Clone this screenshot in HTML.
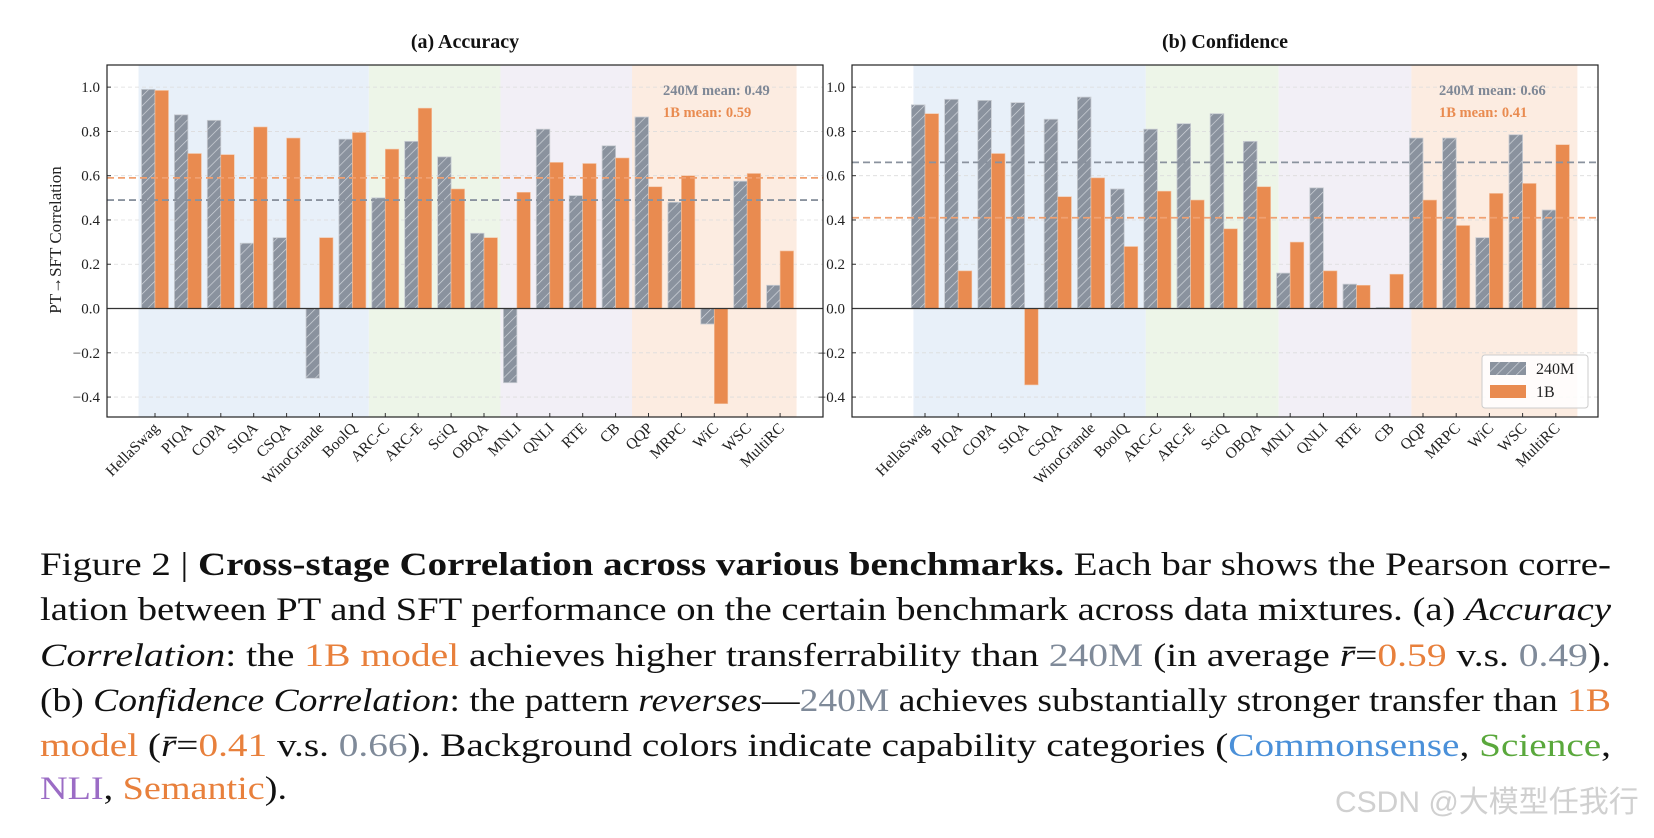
<!DOCTYPE html>
<html><head><meta charset="utf-8"><style>
html,body{margin:0;padding:0;background:#fff;}
svg{display:block;font-family:"Liberation Serif","DejaVu Serif",serif;}
</style></head><body>
<svg id="root" width="1654" height="838" viewBox="0 0 1654 838">
<defs>
<pattern id="hatch" patternUnits="userSpaceOnUse" width="7" height="7" patternTransform="rotate(45)">
<rect width="7" height="7" fill="#8a929e"/>
<line x1="0" y1="0" x2="0" y2="7" stroke="#d4d8de" stroke-width="1.3"/>
</pattern>
</defs>
<g id="chartA"></g>
<g id="chartB"></g>
<g font-size="33" fill="#111">
<text x="40" y="575" textLength="1571" lengthAdjust="spacingAndGlyphs">Figure 2 | <tspan font-weight="bold">Cross-stage Correlation across various benchmarks.</tspan> Each bar shows the Pearson corre-</text>
<text x="40" y="620" textLength="1571" lengthAdjust="spacingAndGlyphs">lation between PT and SFT performance on the certain benchmark across data mixtures. (a) <tspan font-style="italic">Accuracy</tspan></text>
<text x="40" y="666" textLength="1571" lengthAdjust="spacingAndGlyphs"><tspan font-style="italic">Correlation</tspan>: the <tspan fill="#e8803c">1B model</tspan> achieves higher transferrability than <tspan fill="#7f8a99">240M</tspan> (in average <tspan font-style="italic">r̄</tspan>=<tspan fill="#e8803c">0.59</tspan> v.s. <tspan fill="#7f8a99">0.49</tspan>).</text>
<text x="40" y="711" textLength="1571" lengthAdjust="spacingAndGlyphs">(b) <tspan font-style="italic">Confidence Correlation</tspan>: the pattern <tspan font-style="italic">reverses</tspan>—<tspan fill="#7f8a99">240M</tspan> achieves substantially stronger transfer than <tspan fill="#e8803c">1B</tspan></text>
<text x="40" y="756" textLength="1571" lengthAdjust="spacingAndGlyphs"><tspan fill="#e8803c">model</tspan> (<tspan font-style="italic">r̄</tspan>=<tspan fill="#e8803c">0.41</tspan> v.s. <tspan fill="#7f8a99">0.66</tspan>). Background colors indicate capability categories (<tspan fill="#4a90d9">Commonsense</tspan>, <tspan fill="#5aa83c">Science</tspan>,</text>
<text x="40" y="799" textLength="247" lengthAdjust="spacingAndGlyphs"><tspan fill="#9b6cc5">NLI</tspan>, <tspan fill="#e8803c">Semantic</tspan>).</text>
</g>
<text x="1335" y="812" font-family="'Liberation Sans','Noto Sans CJK SC',sans-serif" font-size="30" fill="#d0d0d0">CSDN @大模型任我行</text>
</svg>
<script>
const categories = ["HellaSwag","PIQA","COPA","SIQA","CSQA","WinoGrande","BoolQ","ARC-C","ARC-E","SciQ","OBQA","MNLI","QNLI","RTE","CB","QQP","MRPC","WiC","WSC","MultiRC"];
const groupSizes = [7,4,4,5];
const accuracy240M = [0.99,0.875,0.85,0.295,0.32,-0.315,0.765,0.50,0.755,0.685,0.34,-0.335,0.81,0.51,0.735,0.865,0.48,-0.07,0.575,0.105];
const accuracy1B = [0.985,0.70,0.695,0.82,0.77,0.32,0.795,0.72,0.905,0.54,0.32,0.525,0.66,0.655,0.68,0.55,0.60,-0.43,0.61,0.26];
const confidence240M = [0.92,0.945,0.94,0.93,0.855,0.955,0.54,0.81,0.835,0.88,0.755,0.16,0.545,0.11,0.005,0.77,0.77,0.32,0.785,0.445];
const confidence1B = [0.88,0.17,0.70,-0.345,0.505,0.59,0.28,0.53,0.49,0.36,0.55,0.30,0.17,0.105,0.155,0.49,0.375,0.52,0.565,0.74];
const accuracyMeans = [0.49,0.59];
const confidenceMeans = [0.66,0.41];
const yTicks = [-0.4,-0.2,0.0,0.2,0.4,0.6,0.8,1.0];
const yTickLabels = ["\u22120.4","\u22120.2","0.0","0.2","0.4","0.6","0.8","1.0"];

const NS="http://www.w3.org/2000/svg";
const bgColors=["#e8f0f9","#edf5e8","#f2eff6","#fcece1"];
const GRAY="#8a929e", ORANGE="#e98b50";
function mk(tag,attrs,parent){const e=document.createElementNS(NS,tag);for(const k in attrs)e.setAttribute(k,attrs[k]);parent.appendChild(e);return e;}

function drawChart(g,cfg){
  const L=cfg.left,R=cfg.right,T=65,B=417,ymin=-0.49,ymax=1.1;
  const y=v=>B-(v-ymin)/(ymax-ymin)*(B-T);
  const step=cfg.step, x0=cfg.first;
  const x=i=>x0+i*step;
  const bw=step*0.41;
  let start=0;
  groupSizes.forEach((n,gi)=>{
    const r=mk("rect",{x:x(start)-step/2+cfg.bgShift,y:T,width:n*step,height:B-T,fill:bgColors[gi]},g);
    
    
    start+=n;
  });
  yTicks.forEach((t,i)=>{
    const gl=mk("line",{x1:L,x2:R,y1:y(t),y2:y(t),stroke:"#dcdcdc","stroke-width":0.8,"stroke-dasharray":"4,3"},g);
    
    
    mk("line",{x1:L,x2:L+4,y1:y(t),y2:y(t),stroke:"#333"},g);
    const tl=mk("text",{x:L-7,y:y(t)+5,"text-anchor":"end","font-size":15,fill:"#222"},g);
    tl.textContent=yTickLabels[i];
    
    
  });
  categories.forEach((c,i)=>{
    const a=cfg.s1[i], b=cfg.s2[i];
    const r1=mk("rect",{x:x(i)-bw,y:Math.min(y(a),y(0)),width:bw,height:Math.abs(y(a)-y(0)),fill:"url(#hatch)",stroke:"#c8ccd2","stroke-width":0.8},g);
    
    
    const r2=mk("rect",{x:x(i),y:Math.min(y(b),y(0)),width:bw,height:Math.abs(y(b)-y(0)),fill:ORANGE,stroke:"#f3c3a3","stroke-width":0.6},g);
    
    
    mk("line",{x1:x(i),x2:x(i),y1:B,y2:B-4,stroke:"#333"},g);
    const lt=mk("text",{transform:`translate(${x(i)+5},${B+12}) rotate(-45)`,"text-anchor":"end","font-size":15.5,fill:"#222"},g);
    lt.textContent=c;
    
    
  });
  const z=mk("line",{x1:L,x2:R,y1:y(0),y2:y(0),stroke:"#333","stroke-width":1.2},g);
  
  
  const m1=mk("line",{x1:L,x2:R,y1:y(cfg.means[0]),y2:y(cfg.means[0]),stroke:"#8a929e","stroke-width":1.8,"stroke-dasharray":"7,4"},g);
  
  
  const m2=mk("line",{x1:L,x2:R,y1:y(cfg.means[1]),y2:y(cfg.means[1]),stroke:"#f0a070","stroke-width":1.8,"stroke-dasharray":"7,4"},g);
  
  
  const t1=mk("text",{x:cfg.annX,y:95,"font-size":14.5,"font-weight":"bold",fill:"#7f8896"},g);
  t1.textContent="240M mean: "+cfg.means[0].toFixed(2);
  
  
  const t2=mk("text",{x:cfg.annX,y:117,"font-size":14.5,"font-weight":"bold",fill:"#e98b50"},g);
  t2.textContent="1B mean: "+cfg.means[1].toFixed(2);
  
  
  const f=mk("rect",{x:L,y:T,width:R-L,height:B-T,fill:"none",stroke:"#222","stroke-width":1.2},g);
  
  
  const ti=mk("text",{x:(L+R)/2,y:48,"text-anchor":"middle","font-size":20,"font-weight":"bold",fill:"#111"},g);
  ti.textContent=cfg.title;
  
  
}

const gA=document.getElementById("chartA");
drawChart(gA,{left:107,right:823,first:155,step:32.9,bgShift:0,s1:accuracy240M,s2:accuracy1B,means:accuracyMeans,annX:663,title:"(a) Accuracy"});
const yl=mk("text",{transform:"translate(61,240) rotate(-90)","text-anchor":"middle","font-size":17,fill:"#222"},gA);
yl.textContent="PT\u2192SFT Correlation";



const gB=document.getElementById("chartB");
drawChart(gB,{left:852,right:1598,first:925,step:33.2,bgShift:5,s1:confidence240M,s2:confidence1B,means:confidenceMeans,annX:1439,title:"(b) Confidence"});
const lg=mk("g",{},gB);


mk("rect",{x:1482,y:355,width:106,height:53,rx:3,fill:"#fff","fill-opacity":0.85,stroke:"#ccc"},lg);
const p1=mk("rect",{x:1490,y:362,width:36,height:13,fill:"url(#hatch)"},lg);


const l1=mk("text",{x:1536,y:374,"font-size":16,fill:"#222"},lg);
l1.textContent="240M";


const p2=mk("rect",{x:1490,y:385,width:36,height:13,fill:ORANGE},lg);


const l2=mk("text",{x:1536,y:397,"font-size":16,fill:"#222"},lg);
l2.textContent="1B";


</script>
</body></html>
